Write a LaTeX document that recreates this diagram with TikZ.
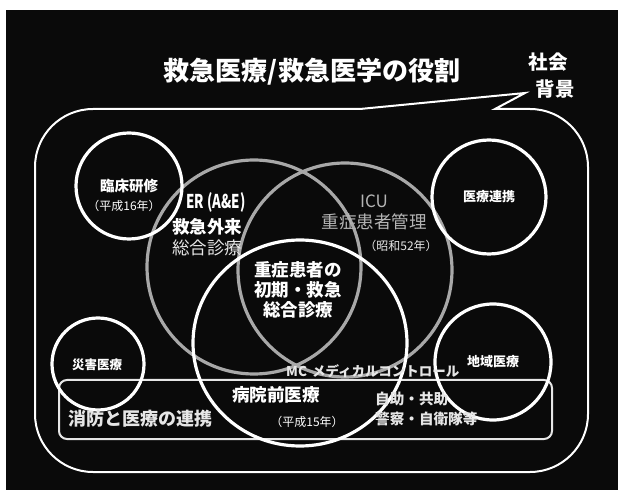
\documentclass[tikz,border=0pt]{standalone}
\usepackage{fontspec}
\setmainfont{Noto Sans CJK JP}
\usetikzlibrary{shapes.geometric}
\definecolor{bg}{HTML}{0A0A0A}
\definecolor{ringgray}{HTML}{A8A8A8}
\definecolor{txtgray}{HTML}{B4B4B4}
\definecolor{soft}{HTML}{E6E6E6}
\begin{document}
\begin{tikzpicture}[x=1pt,y=1pt,
  ring/.style={draw=white,line width=3.2pt,circle,inner sep=0pt},
  gring/.style={draw=ringgray,line width=3.2pt,circle,inner sep=0pt},
  lbl/.style={text=white,inner sep=0pt,align=center},
  bubble/.style={draw=white,line width=2pt,line join=miter},
  inbox/.style={draw=soft,line width=2pt,rounded corners=8pt}
]
\useasboundingbox (0,0) rectangle (618,490);
\fill[white] (0,0) rectangle (618,490);
\fill[bg] (6,0) rectangle (618,480);

% speech bubble frame
\draw[bubble] (93,381) -- (360,381) -- (525,397) -- (495,381) -- (530,381)
  arc[start angle=90,end angle=0,radius=58pt] -- (588,76)
  arc[start angle=0,end angle=-90,radius=58pt] -- (93,18)
  arc[start angle=-90,end angle=-180,radius=58pt] -- (35,323)
  arc[start angle=180,end angle=90,radius=58pt] -- cycle;

% inner rounded box
\draw[inbox] (59,51) rectangle (552,110);

% gray circles
\node[gring,minimum size=214pt] (er) at (254,223) {};
\node[gring,minimum size=214pt] (icu) at (345,220) {};
% white circles
\node[ring,ellipse,minimum width=214pt,minimum height=206pt] (pre) at (300,147) {};
\node[ring,minimum size=106pt] (rinsho) at (129,304) {};
\node[ring,minimum size=114pt] (renkei) at (489,293) {};
\node[ring,minimum size=92pt] (saigai) at (98,126) {};
\node[ring,minimum size=116pt] (chiiki) at (493,128) {};

% title
\node[lbl,font=\bfseries\fontsize{26}{30}\selectfont] (title) at (312,418) {救急医療/救急医学の役割};
\node[lbl,font=\bfseries\fontsize{19.5}{26}\selectfont] (shakai) at (548,428) {社会};
\node[lbl,font=\bfseries\fontsize{19.5}{26}\selectfont] (haikei) at (555,401) {背景};

% small circle labels
\node[lbl,font=\bfseries\fontsize{14.5}{18}\selectfont] (t1) at (129,304) {臨床研修};
\node[lbl,font=\fontsize{12}{14}\selectfont] (t1b) at (124,284) {（平成16年）};
\node[lbl,font=\bfseries\fontsize{13}{16}\selectfont] (t2) at (489,293) {医療連携};
\node[lbl,font=\bfseries\fontsize{12.5}{15}\selectfont] (t3) at (97,125) {災害医療};
\node[lbl,font=\fontsize{13}{16}\selectfont\bfseries] (t4) at (493,128) {地域医療};

% ER
\node[lbl,font=\bfseries\fontsize{19}{20}\selectfont] (ert) at (216,288) {\scalebox{0.7}[1]{ER (A\&E)}};
\node[lbl,font=\bfseries\fontsize{17.5}{20}\selectfont] (erb) at (207,263) {救急外来};
\node[lbl,text=soft,font=\fontsize{17.5}{20}\selectfont] (erc) at (207,242) {総合診療};

% ICU
\node[lbl,text=txtgray,font=\fontsize{17}{20}\selectfont] (icut) at (374,289) {ICU};
\node[lbl,text=txtgray,font=\fontsize{17.5}{20}\selectfont] (icub) at (374,268) {重症患者管理};
\node[lbl,text=soft,font=\fontsize{12}{14}\selectfont] (icuc) at (401,244) {（昭和52年）};

% center
\node[lbl,font=\bfseries\fontsize{17.5}{20}\selectfont] (core) at (298,200) {重症患者の\\初期・救急\\総合診療};

% prehospital
\node[lbl,text=soft,font=\bfseries\fontsize{13.5}{16}\selectfont,anchor=west] (mc) at (286,119) {MC\hspace{5pt}メディカルコントロール};
\node[lbl,font=\bfseries\fontsize{17.6}{20}\selectfont] (pret) at (276,95) {病院前医療};
\node[lbl,font=\fontsize{12}{14}\selectfont] (preb) at (307,68) {（平成15年）};
\node[lbl,text=soft,font=\bfseries\fontsize{18}{20}\selectfont] (fire) at (140,71) {消防と医療の連携};
\node[lbl,text=soft,font=\bfseries\fontsize{14.6}{18}\selectfont,anchor=west] (self) at (375,91) {自助・共助};
\node[lbl,text=soft,font=\bfseries\fontsize{14.6}{18}\selectfont,anchor=west] (police) at (375,71) {警察・自衛隊等};
\end{tikzpicture}
\end{document}
